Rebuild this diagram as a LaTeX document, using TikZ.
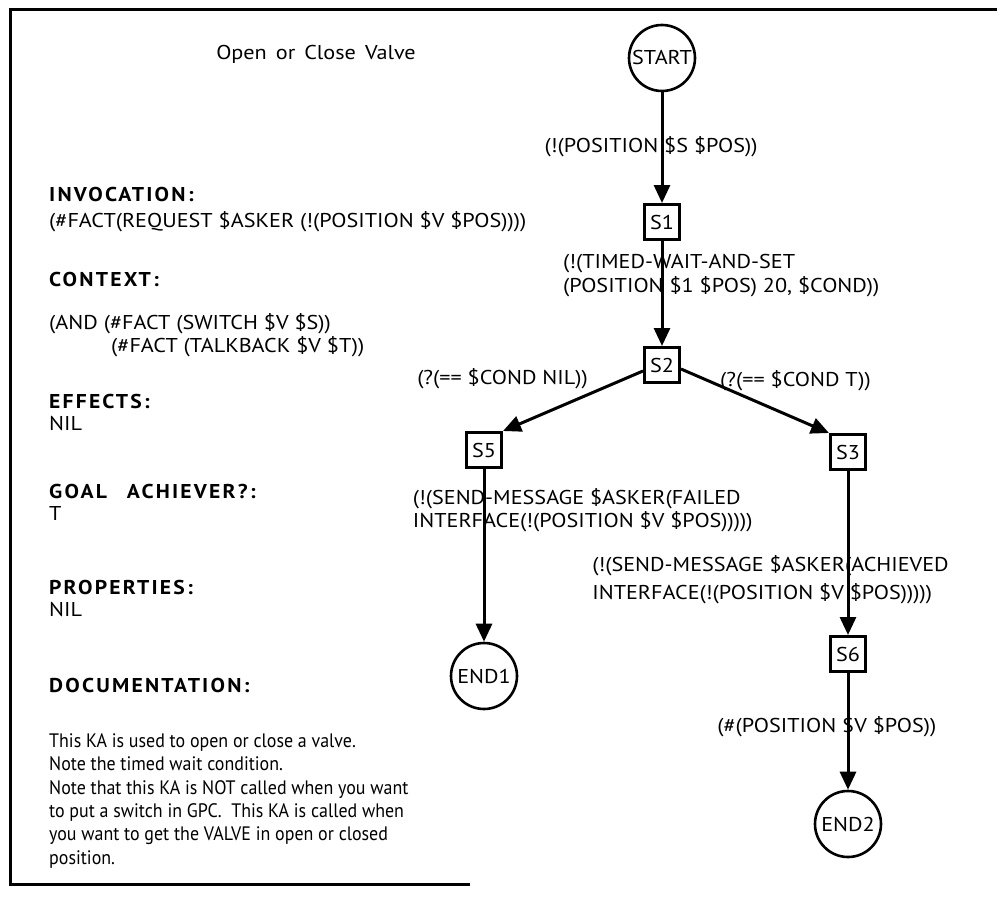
\documentclass[tikz,border=0pt]{standalone}
\usepackage{fontspec}
\setmainfont{PT Sans}[FakeStretch=0.92]
\newfontfamily\capsfont{PT Sans}[FakeStretch=1.11]
\newfontfamily\hdrfont{PT Sans Bold}[FakeStretch=1.08, LetterSpace=11]
\usetikzlibrary{arrows.meta,calc}
\newcommand{\lfont}{\capsfont\fontsize{20}{24}\selectfont}
\newlength{\lwA}\newlength{\lwB}\newlength{\lwC}\newlength{\lwD}\newlength{\lwE}
\newlength{\lwF}\newlength{\lwG}\newlength{\lwH}
\tikzset{
  txt/.style={anchor=mid west, inner sep=0pt, font=\fontsize{19.5}{24}\selectfont},
  ctxt/.style={anchor=mid west, inner sep=0pt, font=\lfont},
  hdr/.style={anchor=mid west, inner sep=0pt, font=\hdrfont\fontsize{20}{24}\selectfont},
  lbl/.style={anchor=mid west, inner sep=0pt, font=\lfont},
  stbox/.style={draw, line width=3pt, minimum width=35pt, minimum height=35pt, inner sep=0pt, font=\lfont},
  endc/.style={draw, circle, line width=2.6pt, minimum size=66pt, inner sep=0pt, font=\lfont},
  arr/.style={line width=3pt, -{Triangle[length=18pt,width=16pt]}},
  frame/.style={line width=3pt}
}
\begin{document}
\settowidth{\lwA}{\lfont (!(POSITION\ }%
\settowidth{\lwB}{\lfont (!(TIMED-}%
\settowidth{\lwC}{\lfont W}%
\settowidth{\lwD}{\lfont INTERF}%
\settowidth{\lwE}{\lfont (!(SEND-MESSAGE \$ASKER}%
\settowidth{\lwF}{\lfont (}%
\settowidth{\lwG}{\lfont (\#(POSITION\ }%
\settowidth{\lwH}{\lfont \$}%
\begin{tikzpicture}[x=1pt,y=-1pt]
\useasboundingbox (0,0) rectangle (997,907);
% frame
\coordinate (fa) at (997,10);
\coordinate (fb) at (10,10);
\coordinate (fc) at (10,884);
\coordinate (fd) at (470,884);
\draw[frame] (fa) -- (fb) -- (fc) -- (fd);

% title
\node[anchor=mid, inner sep=0pt, font=\lfont] (title) at (316,57) {Open\hspace{9pt}or\hspace{9pt}Close\hspace{9pt}Valve};

% left column
\node[hdr] (h1) at (49,199) {INVOCATION:};
\node[ctxt] (t1) at (49,225) {(\#FACT(REQUEST \$ASKER (!(POSITION \$V \$POS))))};
\node[hdr] (h2) at (49,284) {CONTEXT:};
\node[ctxt] (t2) at (49,327) {(AND (\#FACT (SWITCH \$V \$S))};
\node[ctxt] (t3) at (111,350) {(\#FACT (TALKBACK \$V \$T))};
\node[hdr] (h3) at (49,406) {EFFECTS:};
\node[ctxt] (t4) at (49,428) {NIL};
\node[hdr] (h4) at (49,496) {GOAL\hspace{20pt}ACHIEVER?:};
\node[ctxt] (t5) at (49,518) {T};
\node[hdr] (h5) at (49,592) {PROPERTIES:};
\node[ctxt] (t6) at (49,614) {NIL};
\node[hdr] (h6) at (49,690) {DOCUMENTATION:};
\node[txt] (d1) at (49,745) {This KA is used to open or close a valve.};
\node[txt] (d2) at (49,768) {Note the timed wait condition.};
\node[txt] (d3) at (49,792) {Note that this KA is NOT called when you want};
\node[txt] (d4) at (49,815) {to put a switch in GPC.\ \ This KA is called when};
\node[txt] (d5) at (49,838) {you want to get the VALVE in open or closed};
\node[txt] (d6) at (49,862) {position.};

% graph nodes
\node[endc] (start) at (662,58) {START};
\node[stbox] (s1) at (662,222) {S1};
\node[stbox] (s2) at (662,365) {S2};
\node[stbox] (s5) at (484,450) {S5};
\node[stbox] (s3) at (848,452) {S3};
\node[endc] (end1) at (484,676) {END1};
\node[stbox] (s6) at (848,654) {S6};
\node[endc] (end2) at (848,824) {END2};

% connectors
\draw[arr] (start) -- (s1);
\draw[arr] (s1) -- (s2);
\draw[arr] ([yshift=-6pt]s2.west) -- (s5.north east);
\draw[arr] ([yshift=-4pt]s2.east) -- (s3.north west);
\draw[arr] (s5) -- (end1);
\draw[arr] (s3) -- (s6);
\draw[arr] (s6) -- (end2);

% edge labels, placed so that each connector crosses the same letter as in the original
\node[lbl] (l1) at ([xshift=-\lwA+2pt]662,150) {(!(POSITION \$S \$POS))};
\node[lbl] (l2a) at ([xshift=-\lwB-0.5\lwC]662,266) {(!(TIMED-WAIT-AND-SET};
\node[lbl] (l2b) at ([xshift=-\lwB-0.5\lwC]662,290) {(POSITION \$1 \$POS) 20, \$COND))};
\node[anchor=mid east, inner sep=0pt, font=\lfont] (l3) at (588,382) {(?(== \$COND NIL))};
\node[lbl] (l4) at (720,384) {(?(== \$COND T))};
\node[lbl] (l5a) at ([xshift=-\lwD-1pt]484,502) {(!(SEND-MESSAGE \$ASKER(FAILED};
\node[lbl] (l5b) at ([xshift=-\lwD-1pt]484,525) {INTERFACE(!(POSITION \$V \$POS)))))};
\node[lbl] (l6a) at ([xshift=-\lwE-0.5\lwF]848,569) {(!(SEND-MESSAGE \$ASKER(ACHIEVED};
\node[lbl] (l6b) at ([xshift=-\lwE-0.5\lwF]848,597) {INTERFACE(!(POSITION \$V \$POS)))))};
\node[lbl] (l7) at ([xshift=-\lwG-0.5\lwH]848,730) {(\#(POSITION \$V \$POS))};
\end{tikzpicture}
\end{document}
